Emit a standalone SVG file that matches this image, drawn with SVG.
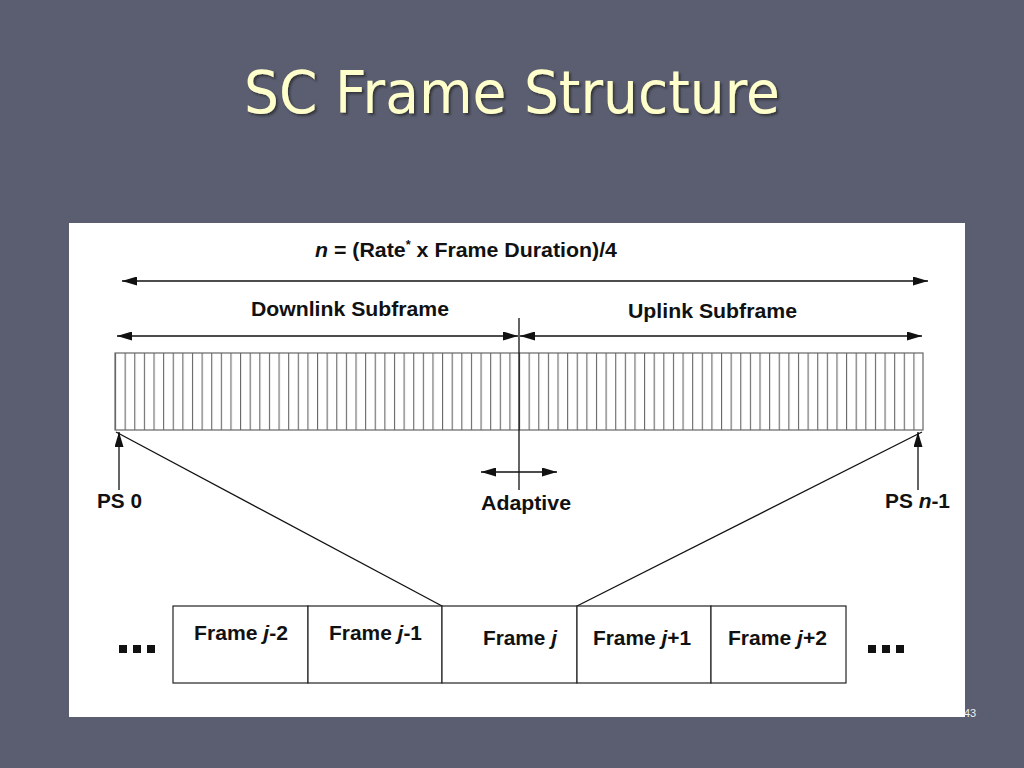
<svg xmlns="http://www.w3.org/2000/svg" width="1024" height="768" viewBox="0 0 1024 768">
<defs>
<style>
.lbl{font-family:"Liberation Sans",Arial,sans-serif;font-weight:bold;font-size:20px;fill:#111}
.ln{stroke:#111;stroke-width:1.3;fill:none}
.box{fill:#fff;stroke:#222;stroke-width:1.2}
</style>
<marker id="ah" viewBox="0 0 15 9" refX="15" refY="4.5" markerWidth="15" markerHeight="9" markerUnits="userSpaceOnUse" orient="auto-start-reverse">
<path d="M0,0 L15,4.5 L0,9 z" fill="#111"/>
</marker>
<pattern id="slots" x="115" y="0" width="9.619" height="768" patternUnits="userSpaceOnUse">
<rect x="0" y="0" width="1.1" height="768" fill="#666"/>
</pattern>
<filter id="sh" x="-5%" y="-5%" width="110%" height="120%">
<feDropShadow dx="2" dy="2" stdDeviation="1" flood-color="#222" flood-opacity="0.7"/>
</filter>
</defs>
<rect width="1024" height="768" fill="#5a5e70"/>
<text x="512" y="113" text-anchor="middle" font-family="'DejaVu Sans','Liberation Sans',sans-serif" font-size="58" fill="#ffffcc" textLength="536" lengthAdjust="spacingAndGlyphs" filter="url(#sh)">SC Frame Structure</text>
<rect x="69" y="223" width="896" height="494" fill="#fff"/>
<text x="970" y="717" text-anchor="middle" font-family="'Liberation Sans',sans-serif" font-size="11" fill="#eee">43</text>

<g id="subframe-bar">
<rect x="115" y="353" width="808" height="77" fill="url(#slots)"/>
<rect x="115" y="353" width="808" height="77" fill="none" stroke="#666" stroke-width="1.2"/>
</g>

<g id="connectors">
<line class="ln" x1="122" y1="281" x2="928" y2="281" marker-start="url(#ah)" marker-end="url(#ah)"/>
<line class="ln" x1="117" y1="336" x2="518" y2="336" marker-start="url(#ah)" marker-end="url(#ah)"/>
<line class="ln" x1="520" y1="336" x2="922" y2="336" marker-start="url(#ah)" marker-end="url(#ah)"/>
<line class="ln" x1="519" y1="318" x2="519" y2="490"/>
<line class="ln" x1="481" y1="472" x2="557" y2="472" marker-start="url(#ah)" marker-end="url(#ah)"/>
<line class="ln" x1="119" y1="490" x2="119" y2="432" marker-end="url(#ah)"/>
<line class="ln" x1="918" y1="490" x2="918" y2="432" marker-end="url(#ah)"/>
<line class="ln" x1="116" y1="432" x2="442" y2="606"/>
<line class="ln" x1="922" y1="432" x2="577" y2="606"/>
</g>

<g id="labels">
<text class="lbl" x="315" y="257" textLength="302" lengthAdjust="spacingAndGlyphs"><tspan font-style="italic">n</tspan> = (Rate<tspan font-size="12" dy="-8">*</tspan><tspan dy="8"> x Frame Duration)/4</tspan></text>
<text class="lbl" x="251" y="316" textLength="198" lengthAdjust="spacingAndGlyphs">Downlink Subframe</text>
<text class="lbl" x="628" y="318" textLength="169" lengthAdjust="spacingAndGlyphs">Uplink Subframe</text>
<text class="lbl" x="97" y="508" textLength="45" lengthAdjust="spacingAndGlyphs">PS 0</text>
<text class="lbl" x="885" y="508" textLength="65" lengthAdjust="spacingAndGlyphs">PS <tspan font-style="italic">n</tspan>-1</text>
<text class="lbl" x="481" y="510" textLength="90" lengthAdjust="spacingAndGlyphs">Adaptive</text>
</g>

<g id="frame-j-2"><rect class="box" x="173" y="606" width="135" height="77"/><text class="lbl" x="194" y="640" textLength="94" lengthAdjust="spacingAndGlyphs">Frame <tspan font-style="italic">j</tspan>-2</text></g>
<g id="frame-j-1"><rect class="box" x="308" y="606" width="134" height="77"/><text class="lbl" x="329" y="640" textLength="93" lengthAdjust="spacingAndGlyphs">Frame <tspan font-style="italic">j</tspan>-1</text></g>
<g id="frame-j"><rect class="box" x="442" y="606" width="135" height="77"/><text class="lbl" x="483" y="645" textLength="74" lengthAdjust="spacingAndGlyphs">Frame <tspan font-style="italic">j</tspan></text></g>
<g id="frame-j+1"><rect class="box" x="577" y="606" width="134" height="77"/><text class="lbl" x="593" y="645" textLength="98" lengthAdjust="spacingAndGlyphs">Frame <tspan font-style="italic">j</tspan>+1</text></g>
<g id="frame-j+2"><rect class="box" x="711" y="606" width="135" height="77"/><text class="lbl" x="728" y="645" textLength="99" lengthAdjust="spacingAndGlyphs">Frame <tspan font-style="italic">j</tspan>+2</text></g>

<g id="ellipsis-left" fill="#111"><rect x="119" y="645" width="8" height="8"/><rect x="133" y="645" width="8" height="8"/><rect x="147" y="645" width="8" height="8"/></g>
<g id="ellipsis-right" fill="#111"><rect x="868" y="645" width="8" height="8"/><rect x="882" y="645" width="8" height="8"/><rect x="896" y="645" width="8" height="8"/></g>
</svg>
